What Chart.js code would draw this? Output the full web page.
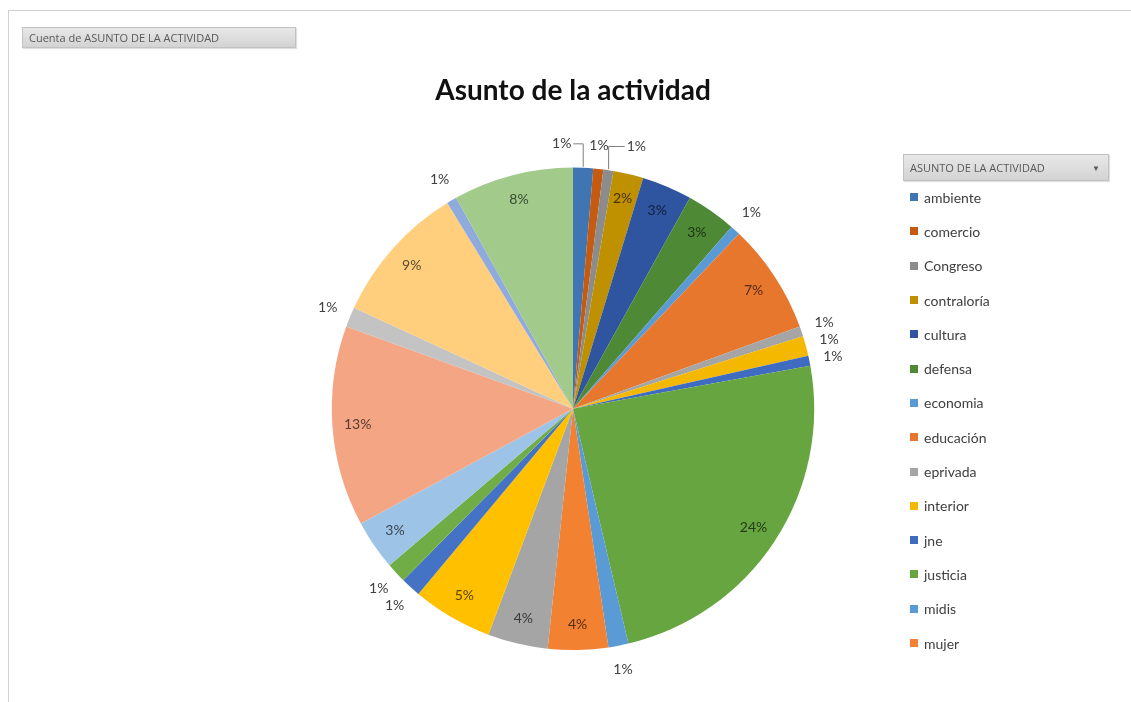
<!DOCTYPE html>
<html>
<head>
<meta charset="utf-8">
<script src="https://cdn.jsdelivr.net/npm/chart.js@4/dist/chart.umd.min.js"></script>
<style>
html,body{margin:0;padding:0;background:#fff;}
#wrap{position:relative;width:1131px;height:702px;overflow:hidden;font-family:Lato,"Open Sans",sans-serif;}
#frame{position:absolute;left:8px;top:10px;width:1140px;height:700px;border-left:1px solid #d0d0d0;border-top:1px solid #d0d0d0;}
canvas{position:absolute;left:0;top:0;}
.btn{position:absolute;background:linear-gradient(#e8e8e8,#d3d3d3);border:1px solid #c2c2c2;color:#595959;font-size:11px;padding:0 6px;white-space:nowrap;box-shadow:1px 1px 1px rgba(0,0,0,.12);box-sizing:border-box;font-family:"Open Sans",sans-serif;}
#fieldBtn{left:22px;top:27px;width:274px;height:21px;line-height:20px;}
#legBtn{left:903px;top:154px;width:206px;height:27px;line-height:26px;}
#legBtn .arr{position:absolute;right:8px;top:0;font-size:8px;}
#legend{position:absolute;left:910px;top:180px;}
.li{height:34.3px;font-size:14px;color:#404040;display:flex;align-items:center;}
.sw{width:8px;height:8px;margin-right:6px;}
</style>
</head>
<body>
<div id="wrap">
  <canvas id="c" width="1131" height="702"></canvas>
  <div id="frame"></div>
  <div class="btn" id="fieldBtn">Cuenta de ASUNTO DE LA ACTIVIDAD</div>
  <div class="btn" id="legBtn">ASUNTO DE LA ACTIVIDAD<span class="arr">▼</span></div>
  <div id="legend"></div>
</div>
<script>
// ---- data ----
const categories = ["ambiente","comercio","Congreso","contraloría","cultura","defensa","economia","educación","eprivada","interior","jne","justicia","midis","mujer",
  "categoría 15","categoría 16","categoría 17","categoría 18","categoría 19","categoría 20","categoría 21","categoría 22","categoría 23","categoría 24"];
const counts = [2,1,1,3,5,5,1,11,1,2,1,36,2,6,6,8,2,2,5,20,2,14,1,12];
const sliceColors = ["#3E75B2","#C55A11","#8C8C8C","#BF9000","#2F55A0","#4E8A35",
  "#5B9BD5","#E8772E","#A5A5A5","#F5B800","#3F6CC0","#66A53F",
  "#5B9BD5","#F28132","#A5A5A5","#FFC000","#4472C4","#70AD47",
  "#9DC3E6","#F4A584","#C3C3C3","#FFCF7E","#8FAADC","#A2CB8B"];
const legendCount = 14;
const chartTitle = "Asunto de la actividad";

function darken(hex,f){
  const n=parseInt(hex.slice(1),16);
  const r=Math.round(((n>>16)&255)*f), g=Math.round(((n>>8)&255)*f), b=Math.round((n&255)*f);
  return `rgb(${r},${g},${b})`;
}

const labelPlugin = {
  id:'pieLabels',
  afterDatasetsDraw(chart){
    const ctx=chart.ctx;
    const meta=chart.getDatasetMeta(0);
    const data=chart.data.datasets[0].data;
    const cols=chart.data.datasets[0].backgroundColor;
    const total=data.reduce((a,b)=>a+b,0);
    const outs=[];
    ctx.save();
    ctx.textAlign='center'; ctx.textBaseline='middle';
    meta.data.forEach((arc,i)=>{
      const p=arc.getProps(['x','y','startAngle','endAngle','outerRadius'],true);
      const pctRaw=data[i]/total*100;
      const txt=Math.round(pctRaw)+'%';
      const mid=(p.startAngle+p.endAngle)/2;
      if(pctRaw>=1.5){
        const rr=p.outerRadius*0.895;
        ctx.font='14px Lato';
        ctx.fillStyle=darken(cols[i],0.36);
        ctx.fillText(txt,p.x+Math.cos(mid)*rr,p.y+Math.sin(mid)*rr);
      } else {
        ctx.font='14px Lato';
        const w=ctx.measureText(txt).width;
        const rr=p.outerRadius+24;
        const ax=p.x+Math.cos(mid)*rr, ay=p.y+Math.sin(mid)*rr;
        outs.push({txt,w,h:14,x:ax,y:ay,ax,ay,mid,cx:p.x,cy:p.y,R:p.outerRadius});
      }
    });
    // resolve collisions
    for(let it=0;it<120;it++){
      let moved=false;
      for(let a=0;a<outs.length;a++)for(let b=a+1;b<outs.length;b++){
        const A=outs[a],B=outs[b];
        const ox=(A.w+B.w)/2+18-Math.abs(A.x-B.x);
        const oy=(A.h+B.h)/2+3-Math.abs(A.y-B.y);
        if(ox>0&&oy>0){
          moved=true;
          const vertZone=Math.abs(Math.cos(A.mid))<0.5;
          if(vertZone){
            const s=(A.x<=B.x?-1:1)*ox/2*0.5;
            A.x+=s; B.x-=s;
          } else {
            const s=(A.y<=B.y?-1:1)*oy/2*0.5;
            A.y+=s; B.y-=s;
          }
        }
      }
      if(!moved)break;
    }
    ctx.strokeStyle='#7f7f7f'; ctx.lineWidth=1;
    outs.forEach(o=>{
      const disp=Math.hypot(o.x-o.ax,o.y-o.ay);
      if(disp>3){
        const ex=o.cx+Math.cos(o.mid)*(o.R+1), ey=o.cy+Math.sin(o.mid)*(o.R+1);
        ctx.beginPath();
        ctx.moveTo(ex,ey);
        const side=o.x<ex?o.x+o.w/2+2:o.x-o.w/2-2;
        if(Math.abs(Math.cos(o.mid))<0.5){
          ctx.lineTo(ex,o.y);
          ctx.lineTo(side,o.y);
        } else {
          ctx.lineTo(side,o.y);
        }
        ctx.stroke();
      }
      ctx.font='14px Lato';
      ctx.fillStyle='#404040';
      ctx.fillText(o.txt,o.x,o.y);
    });
    ctx.restore();
  }
};

const chart = new Chart(document.getElementById('c'),{
  type:'pie',
  data:{labels:categories,datasets:[{data:counts,backgroundColor:sliceColors,borderWidth:0}]},
  options:{
    responsive:false,animation:false,
    layout:{padding:{left:331,right:316,top:0,bottom:52}},
    plugins:{
      legend:{display:false},
      tooltip:{enabled:false},
      title:{display:true,text:chartTitle,color:'#111',
        font:{family:'Lato',size:28,weight:'bold'},padding:{top:74,bottom:60}}
    }
  },
  plugins:[labelPlugin]
});

// legend built from the chart's data
const leg=document.getElementById('legend');
chart.data.labels.slice(0,legendCount).forEach((lab,i)=>{
  const d=document.createElement('div'); d.className='li';
  const s=document.createElement('span'); s.className='sw'; s.style.background=chart.data.datasets[0].backgroundColor[i];
  d.appendChild(s); d.appendChild(document.createTextNode(lab)); leg.appendChild(d);
});
</script>
</body>
</html>
